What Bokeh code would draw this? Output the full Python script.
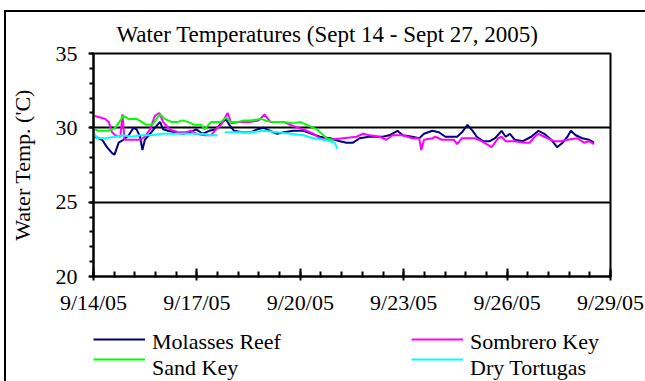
import numpy as np
import pandas as pd
from bokeh.plotting import figure
from bokeh.layouts import column
from bokeh.models import Range1d, FixedTicker, DatetimeTickFormatter, Legend, LegendItem
from bokeh.embed import file_html
from bokeh.resources import INLINE

FONT = "Liberation Serif"
FS = "22px"

# ---- data (day offsets from 9/14/05 00:00, temperatures in C) ----
molasses_days = [0.04, 0.25, 0.39, 0.54, 0.61, 0.73, 0.87, 1.02, 1.16, 1.25,
                 1.35, 1.42, 1.49, 1.64, 1.78, 1.93, 2.02, 2.16, 2.36, 2.60,
                 2.79, 2.98, 3.17, 3.36, 3.55, 3.70, 3.84, 3.94, 4.08, 4.32,
                 4.56, 4.75, 4.94, 5.13, 5.33, 5.52, 5.80, 6.09, 6.33, 6.57,
                 6.86, 7.15, 7.34, 7.53, 7.72, 8.00, 8.39, 8.58, 8.82, 8.97,
                 9.25, 9.45, 9.59, 9.83, 10.02, 10.21, 10.55, 10.69, 10.85, 11.00,
                 11.12, 11.31, 11.50, 11.65, 11.84, 11.96, 12.08, 12.22, 12.46, 12.70,
                 12.91, 13.08, 13.28, 13.45, 13.61, 13.75, 13.85, 13.99, 14.18, 14.38, 14.52]
molasses_temp = [29.4, 29.2, 28.7, 28.3, 28.2, 29.0, 29.2, 29.5, 30.0, 29.9,
                 29.4, 28.5, 29.2, 29.6, 30.0, 30.4, 29.9, 29.8, 29.7, 29.6,
                 29.7, 29.9, 29.6, 29.8, 29.9, 30.3, 30.6, 30.2, 29.8, 29.7,
                 29.7, 29.9, 30.0, 29.8, 29.6, 29.7, 29.8, 29.8, 29.6, 29.4,
                 29.3, 29.1, 29.0, 29.0, 29.3, 29.4, 29.4, 29.5, 29.8, 29.5,
                 29.4, 29.3, 29.6, 29.8, 29.7, 29.4, 29.4, 29.7, 30.2, 29.8,
                 29.4, 29.1, 29.1, 29.3, 29.8, 29.4, 29.6, 29.2, 29.1, 29.4,
                 29.8, 29.6, 29.2, 28.7, 29.0, 29.4, 29.8, 29.5, 29.3, 29.2, 29.0]

sombrero_days = [0.04, 0.20, 0.34, 0.44, 0.54, 0.63, 0.78, 0.84, 0.90, 1.11,
                 1.35, 1.49, 1.64, 1.78, 1.91, 2.02, 2.21, 2.45, 2.69, 2.84,
                 2.98, 3.22, 3.41, 3.55, 3.70, 3.89, 4.00, 4.27, 4.56, 4.80,
                 4.96, 5.13, 5.52, 5.71, 5.95, 6.19, 6.38, 6.57, 6.86, 7.24,
                 7.63, 7.82, 8.01, 8.30, 8.49, 8.68, 8.97, 9.25, 9.45, 9.51,
                 9.59, 9.83, 9.92, 10.11, 10.45, 10.55, 10.69, 11.07, 11.26, 11.55,
                 11.74, 11.84, 11.96, 12.22, 12.51, 12.66, 12.80, 12.91, 13.08, 13.37,
                 13.56, 13.75, 14.04, 14.23, 14.38, 14.52]
sombrero_temp = [30.8, 30.7, 30.6, 30.4, 29.7, 29.5, 29.4, 30.9, 29.2, 29.2,
                 29.2, 29.4, 29.9, 30.8, 31.0, 30.4, 29.9, 29.7, 29.7, 29.8,
                 29.6, 29.5, 29.5, 29.9, 30.2, 31.0, 30.3, 30.4, 30.4, 30.5,
                 30.9, 30.4, 30.4, 30.2, 30.0, 29.8, 29.6, 29.3, 29.2, 29.3,
                 29.4, 29.6, 29.5, 29.4, 29.2, 29.5, 29.5, 29.3, 29.3, 28.5,
                 29.2, 29.3, 29.4, 29.2, 29.2, 28.9, 29.3, 29.3, 29.1, 28.7,
                 29.3, 29.4, 29.1, 29.1, 29.0, 29.0, 29.4, 29.6, 29.4, 29.1,
                 29.1, 29.2, 29.3, 29.0, 29.1, 28.9]

sand_days = [0.04, 0.15, 0.44, 0.63, 0.75, 0.87, 1.02, 1.25, 1.40, 1.54,
             1.70, 1.83, 1.93, 2.07, 2.26, 2.45, 2.57, 2.74, 2.93, 3.12,
             3.22, 3.41, 3.70, 3.84, 3.98, 4.18, 4.37, 4.56, 4.85, 4.99,
             5.18, 5.52, 5.80, 6.00, 6.19, 6.48, 6.62, 6.76, 6.91, 6.95]
sand_temp = [29.9, 29.8, 29.8, 30.0, 30.4, 30.8, 30.6, 30.6, 30.4, 30.2,
             30.2, 30.6, 30.9, 30.6, 30.4, 30.4, 30.5, 30.4, 30.2, 30.2,
             29.9, 30.4, 30.4, 30.7, 30.4, 30.4, 30.5, 30.5, 30.6, 30.5,
             30.4, 30.4, 30.3, 30.4, 30.2, 29.9, 29.6, 29.3, 29.2, 29.2]

tortugas_days = [0.04, 0.10, 0.34, 0.63, 0.87, 1.11, 1.35, 1.69, 1.97, 2.26,
                 2.55, 2.84, 3.12, 3.41, 3.60, 3.70, 3.81, 4.18, 4.56, 4.94,
                 5.33, 5.71, 6.09, 6.38, 6.67, 6.86, 7.00, 7.07]
tortugas_temp = [29.6, 29.3, 29.3, 29.4, 29.5, 29.4, 29.5, 29.5, 29.6, 29.6,
                 29.6, 29.6, 29.6, 29.5, 29.5, float("nan"), 29.7, 29.7, 29.7, 29.8,
                 29.7, 29.6, 29.5, 29.3, 29.2, 29.1, 29.0, 28.6]

series_names = ["Molasses Reef", "Sombrero Key", "Sand Key", "Dry Tortugas"]
series_colors = ["#000080", "#FF00FF", "#00FF00", "#00FFFF"]

x_tick_days = [0, 3, 6, 9, 12, 15]
y_major = [20, 25, 30, 35]
y_grid_vals = [25, 30, 35]

start = pd.Timestamp("2005-09-14")


def to_dt(days):
    return start + pd.to_timedelta(np.array(days, dtype=float), unit="D")


def to_ms(days):
    return [(start + pd.Timedelta(days=float(d))).value / 1e6 for d in days]


p = figure(width=639, height=305, x_axis_type="datetime",
           output_backend="svg", toolbar_location=None,
           x_range=Range1d(start=to_dt([0])[0], end=to_dt([15])[0]),
           y_range=Range1d(20, 35),
           min_border_left=82, min_border_right=35,
           min_border_top=40, min_border_bottom=35)

p.title.text = "Water Temperatures (Sept 14 - Sept 27, 2005)"
p.title.text_font = FONT
p.title.text_font_size = "23px"
p.title.text_font_style = "normal"
p.title.text_color = "black"
p.title.align = "left"
p.title.offset = 23
p.title.standoff = 14

p.outline_line_color = "black"
p.outline_line_width = 2
p.outline_line_alpha = 1.0

p.xgrid.visible = False
p.ygrid.ticker = FixedTicker(ticks=y_grid_vals)
p.ygrid.grid_line_color = "black"
p.ygrid.grid_line_width = 2

# x axis
minor_days = [i * 0.6 for i in range(26)]
p.xaxis.ticker = FixedTicker(ticks=to_ms(x_tick_days), minor_ticks=to_ms(minor_days))
fmt = "%-m/%-d/%y"
p.xaxis.formatter = DatetimeTickFormatter(days=fmt, months=fmt, hours=fmt, years=fmt,
                                          minutes=fmt, hourmin=fmt)
p.xaxis.major_label_text_font = FONT
p.xaxis.major_label_text_font_size = FS
p.xaxis.major_label_text_color = "black"
p.xaxis.major_label_standoff = 9
p.xaxis.axis_line_width = 2
p.xaxis.major_tick_line_width = 2
p.xaxis.minor_tick_line_width = 2
p.xaxis.major_tick_in = 8
p.xaxis.major_tick_out = 4
p.xaxis.minor_tick_in = 5
p.xaxis.minor_tick_out = 1

# y axis
p.yaxis.ticker = FixedTicker(ticks=y_major, minor_ticks=list(range(20, 36)))
p.yaxis.axis_label = "Water Temp. ('C)"
p.yaxis.axis_label_text_font = FONT
p.yaxis.axis_label_text_font_size = FS
p.yaxis.axis_label_text_font_style = "normal"
p.yaxis.axis_label_text_color = "black"
p.yaxis.axis_label_standoff = 18
p.yaxis.major_label_text_font = FONT
p.yaxis.major_label_text_font_size = FS
p.yaxis.major_label_text_color = "black"
p.yaxis.major_label_standoff = 11
p.yaxis.axis_line_width = 2
p.yaxis.major_tick_line_width = 2
p.yaxis.minor_tick_line_width = 2
p.yaxis.major_tick_in = 0
p.yaxis.major_tick_out = 5
p.yaxis.minor_tick_in = 0
p.yaxis.minor_tick_out = 4

data = [(molasses_days, molasses_temp), (sombrero_days, sombrero_temp),
        (sand_days, sand_temp), (tortugas_days, tortugas_temp)]
for (d, t), c in zip(data, series_colors):
    p.line(to_dt(d), t, line_color=c, line_width=2)

# ---- legend strip below the chart ----
pl = figure(width=639, height=64, output_backend="svg", toolbar_location=None,
            x_range=Range1d(0, 1), y_range=Range1d(0, 1),
            x_axis_location=None, y_axis_location=None,
            min_border_left=42, min_border_right=0,
            min_border_top=12, min_border_bottom=0)
pl.grid.visible = False
pl.outline_line_color = None

# column-major fill: left column Molasses/Sand, right column Sombrero/Dry
order = ["Molasses Reef", "Sand Key", "Sombrero Key", "Dry Tortugas"]
color_of = dict(zip(series_names, series_colors))

# swatches (glyphs only)
swatch_r = {n: pl.line([5, 6], [5, 6], line_color=color_of[n], line_width=2) for n in order}
# label carriers (no drawn glyph)
label_r = {n: pl.line([], [], line_color=color_of[n], line_width=2) for n in order}


def style_legend(lg):
    lg.label_text_font = FONT
    lg.label_text_font_size = FS
    lg.label_text_color = "black"
    lg.glyph_width = 52
    lg.glyph_height = 20
    lg.label_height = 20
    lg.label_standoff = 7
    lg.label_width = 259
    lg.spacing = 0
    lg.padding = 0
    lg.margin = 0
    lg.border_line_color = None
    lg.background_fill_alpha = 0


legend_sw = Legend(items=[LegendItem(label=" ", renderers=[swatch_r[n]]) for n in order],
                   ncols=2, location="top_left")
style_legend(legend_sw)
legend_lb = Legend(items=[LegendItem(label=n, renderers=[label_r[n]]) for n in order],
                   ncols=2, location="top_left")
style_legend(legend_lb)
pl.add_layout(legend_sw)
pl.add_layout(legend_lb)

layout = column(p, pl, spacing=0, margin=(10, 0, 0, 4))
layout.styles = {"border-left": "2px solid black", "border-top": "2px solid black"}

open("out.html", "w").write(file_html(layout, INLINE))
